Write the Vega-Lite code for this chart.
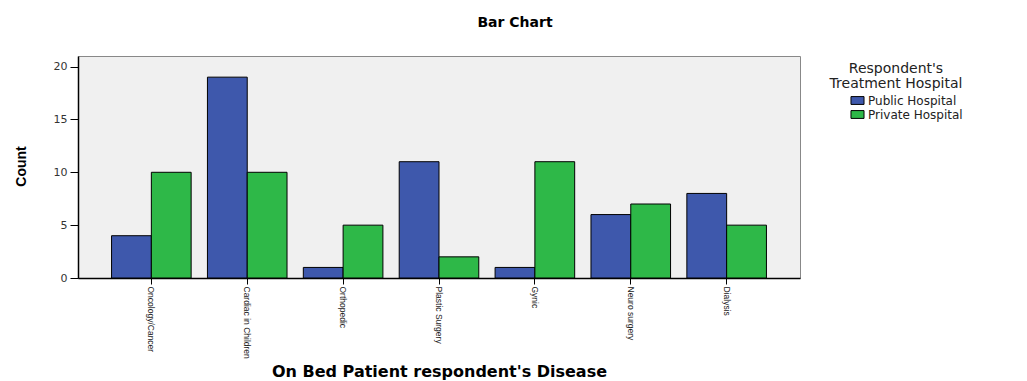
{
  "$schema": "https://vega.github.io/schema/vega-lite/v6.json",
  "autosize": "none",
  "width": 722,
  "height": 222,
  "padding": {"left": 78, "top": 56, "right": 227, "bottom": 103},
  "background": "white",
  "title": {"text": "Bar Chart", "fontSize": 14, "font": "DejaVu Sans", "fontWeight": "bold", "anchor": "middle", "dx": 76, "offset": 26, "color": "#000"},
  "config": {
    "font": "Liberation Sans",
    "view": {"fill": "#f0f0f0", "stroke": "#888", "strokeWidth": 1}
  },
  "data": {"values": [
    {"disease": "Oncology/Cancer", "hospital": "Public Hospital", "count": 4},
    {"disease": "Oncology/Cancer", "hospital": "Private Hospital", "count": 10},
    {"disease": "Cardiac in Children", "hospital": "Public Hospital", "count": 19},
    {"disease": "Cardiac in Children", "hospital": "Private Hospital", "count": 10},
    {"disease": "Orthopedic", "hospital": "Public Hospital", "count": 1},
    {"disease": "Orthopedic", "hospital": "Private Hospital", "count": 5},
    {"disease": "Plastic Surgery", "hospital": "Public Hospital", "count": 11},
    {"disease": "Plastic Surgery", "hospital": "Private Hospital", "count": 2},
    {"disease": "Gynic", "hospital": "Public Hospital", "count": 1},
    {"disease": "Gynic", "hospital": "Private Hospital", "count": 11},
    {"disease": "Neuro surgery", "hospital": "Public Hospital", "count": 6},
    {"disease": "Neuro surgery", "hospital": "Private Hospital", "count": 7},
    {"disease": "Dialysis", "hospital": "Public Hospital", "count": 8},
    {"disease": "Dialysis", "hospital": "Private Hospital", "count": 5}
  ]},
  "mark": {"type": "bar", "stroke": "#000", "strokeWidth": 1},
  "encoding": {
    "x": {
      "field": "disease", "type": "nominal",
      "sort": ["Oncology/Cancer", "Cardiac in Children", "Orthopedic", "Plastic Surgery", "Gynic", "Neuro surgery", "Dialysis"],
      "scale": {"paddingInner": 0.17, "paddingOuter": 0.35},
      "axis": {
        "title": "On Bed Patient respondent's Disease",
        "titleFont": "DejaVu Sans", "titleFontSize": 16, "titleFontWeight": "bold", "titleColor": "#000",
        "titleY": 85, "titleBaseline": "top",
        "labelAngle": 90, "labelFontSize": 8.5, "labelColor": "#222", "labelFont": "Liberation Sans",
        "tickColor": "#000", "tickSize": 6, "domainColor": "#000", "domainWidth": 1.5,
        "labelPadding": 2
      }
    },
    "xOffset": {"field": "hospital", "type": "nominal", "sort": ["Public Hospital", "Private Hospital"], "scale": {"paddingInner": 0, "paddingOuter": 0}},
    "y": {
      "field": "count", "type": "quantitative",
      "scale": {"domain": [0, 21], "nice": false},
      "axis": {
        "title": "Count", "titleFontSize": 14, "titleFontWeight": "bold", "titleColor": "#000", "titleFont": "Liberation Sans",
        "titleX": -50, "titleY": 110, "titleAngle": -90, "titleAlign": "center", "titleBaseline": "bottom",
        "values": [0, 5, 10, 15, 20], "grid": false,
        "labelFont": "DejaVu Sans", "labelFontSize": 11, "labelColor": "#333", "labelPadding": 3,
        "tickColor": "#000", "tickSize": 8, "domainColor": "#000", "domainWidth": 1.5
      }
    },
    "color": {
      "field": "hospital", "type": "nominal",
      "sort": ["Public Hospital", "Private Hospital"],
      "scale": {"domain": ["Public Hospital", "Private Hospital"], "range": ["#3E58AC", "#2EB848"]},
      "legend": {
        "title": ["Respondent's", "Treatment Hospital"],
        "orient": "none", "legendX": 752, "legendY": 6,
        "titleFont": "DejaVu Sans", "titleFontSize": 14, "titleFontWeight": "normal", "titleColor": "#222", "titleAnchor": "middle", "titleAlign": "center", "titleLineHeight": 15,
        "titlePadding": 2,
        "labelFont": "DejaVu Sans", "labelFontSize": 12, "labelColor": "#222",
        "symbolType": "M-1,-0.6H1V0.6H-1Z", "symbolSize": 170, "symbolStrokeColor": "#000", "symbolStrokeWidth": 1,
        "symbolOffset": 20, "labelOffset": 3, "rowPadding": -2
      }
    }
  }
}
